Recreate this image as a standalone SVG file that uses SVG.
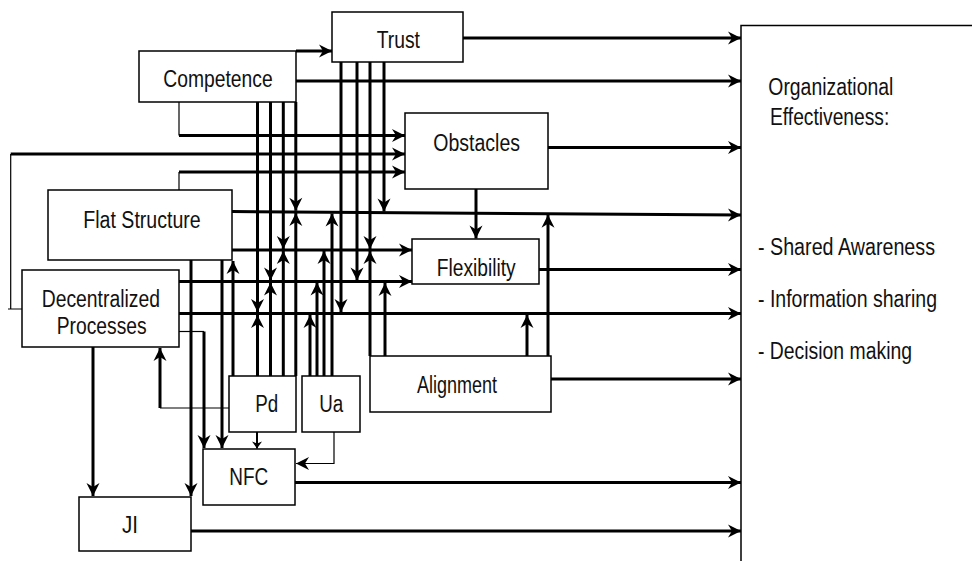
<svg xmlns="http://www.w3.org/2000/svg" width="972" height="561" viewBox="0 0 972 561">
<defs>
<style>
.box{fill:#fff;stroke:#000;stroke-width:1.5}
.tk{fill:none;stroke:#000;stroke-width:3}
.md{fill:none;stroke:#000;stroke-width:2}
.tn{fill:none;stroke:#000;stroke-width:1.2}
.a{marker-end:url(#ah)}
.as{marker-end:url(#ahs)}
text{font-family:"Liberation Sans Narrow","Liberation Sans",Arial,sans-serif;font-size:23px;fill:#111}
</style>
<marker id="ah" markerUnits="userSpaceOnUse" markerWidth="16" markerHeight="16" viewBox="-14 -8 16 16" refX="0" refY="0" orient="auto">
<path d="M0,0 L-13,-6.5 L-9,0 L-13,6.5 Z" fill="#000"/>
</marker>
<marker id="ahs" markerUnits="userSpaceOnUse" markerWidth="12" markerHeight="12" viewBox="-10 -6 12 12" refX="0" refY="0" orient="auto">
<path d="M0,0 L-7,-5 L-5,0 L-7,5 Z" fill="#000"/>
</marker>
</defs>
<rect x="0" y="0" width="972" height="561" fill="#fff"/>
<g id="connectors">
<path class="tk a" d="M463,38 H741"/>
<path class="tk a" d="M296,81 H741"/>
<path class="tk a" d="M548,147.5 H741"/>
<path class="tk a" d="M232,211.5 L741,215"/>
<path class="tk a" d="M539,269.5 H741"/>
<path class="tk a" d="M179,313.5 H741"/>
<path class="tk a" d="M551,379 H741"/>
<path class="tk a" d="M295,482.5 H741"/>
<path class="tk a" d="M191,531 H741"/>
<path class="tk a" d="M296,51 H332"/>
<path class="tn" d="M179,102 V135.5"/>
<path class="tk a" d="M179,135.5 H405"/>
<path class="tn" d="M22,309 H8 M10.7,309 V154"/>
<path class="tk a" d="M10.7,154 H405"/>
<path class="tn" d="M179,190 V172"/>
<path class="tk a" d="M179,172 H405"/>
<path class="tk a" d="M476,189 V238.5"/>
<path class="tk a" d="M232,250 H412"/>
<path class="tk a" d="M179,281.5 H412"/>
<path class="tn" d="M179,331.5 H204"/>
<path class="tk a" d="M204,331.5 V448"/>
<path class="tk a" d="M222,260 V448"/>
<path class="md as" d="M257,432 V448.5"/>
<path class="tn a" d="M334,432 V463.5 H296"/>
<path class="tk a" d="M191,260 V496"/>
<path class="tk a" d="M93,347 V496"/>
<path class="tn" d="M229,408 H160"/>
<path class="tk a" d="M160,408 V348"/>
<path class="tk a" d="M233,376 V261"/>
<path class="tk a" d="M257.5,102 V312"/>
<path class="tk a" d="M270.5,102 V280.5"/>
<path class="tk a" d="M283.3,102 V249"/>
<path class="tk a" d="M295.8,102 V210.8"/>
<path class="tk a" d="M257.5,376 V315"/>
<path class="tk a" d="M270.5,376 V282.5"/>
<path class="tk a" d="M283.3,376 V251"/>
<path class="tk a" d="M295.8,376 V213"/>
<path class="tk a" d="M384,62 V211.5"/>
<path class="tk a" d="M370,62 V249"/>
<path class="tk a" d="M357,62 V280.5"/>
<path class="tk a" d="M341,62 V312"/>
<path class="tk a" d="M332,376 V213.5"/>
<path class="tk a" d="M324,376 V251"/>
<path class="tk a" d="M317,376 V282.5"/>
<path class="tk a" d="M310,376 V315"/>
<path class="tk a" d="M370,356 V251"/>
<path class="tk a" d="M385,356 V283"/>
<path class="tk a" d="M527,356 V315"/>
<path class="tk a" d="M548,356 V214.8"/>
</g>
<g id="trust"><rect class="box" x="332" y="12" width="131" height="50"/><text x="376.7" y="48.3" textLength="43.3" lengthAdjust="spacingAndGlyphs">Trust</text></g>
<g id="competence"><rect class="box" x="139" y="51" width="157" height="51"/><text x="163.3" y="87" textLength="109.4" lengthAdjust="spacingAndGlyphs">Competence</text></g>
<g id="obstacles"><rect class="box" x="405" y="113" width="143" height="76"/><text x="433.3" y="150.7" textLength="86.7" lengthAdjust="spacingAndGlyphs">Obstacles</text></g>
<g id="flexibility"><rect class="box" x="412" y="239" width="127" height="45"/><text x="436.7" y="276" textLength="79" lengthAdjust="spacingAndGlyphs">Flexibility</text></g>
<g id="flat-structure"><rect class="box" x="48" y="190" width="184" height="70"/><text x="83.3" y="228.3" textLength="117.4" lengthAdjust="spacingAndGlyphs">Flat Structure</text></g>
<g id="decentralized"><rect class="box" x="22" y="270" width="157" height="77"/><text x="41.7" y="306.7" textLength="118.3" lengthAdjust="spacingAndGlyphs">Decentralized</text><text x="56.7" y="334.3" textLength="90" lengthAdjust="spacingAndGlyphs">Processes</text></g>
<g id="pd"><rect class="box" x="229" y="376" width="67" height="56"/><text x="255.3" y="412.3" textLength="23" lengthAdjust="spacingAndGlyphs">Pd</text></g>
<g id="ua"><rect class="box" x="302" y="376" width="58" height="56"/><text x="319.3" y="412.3" textLength="24" lengthAdjust="spacingAndGlyphs">Ua</text></g>
<g id="alignment"><rect class="box" x="370" y="356" width="181" height="56"/><text x="417" y="392.7" textLength="80" lengthAdjust="spacingAndGlyphs">Alignment</text></g>
<g id="nfc"><rect class="box" x="203" y="449" width="92" height="56"/><text x="229.3" y="485" textLength="39" lengthAdjust="spacingAndGlyphs">NFC</text></g>
<g id="ji"><rect class="box" x="79" y="497" width="112" height="54"/><text x="122" y="533" textLength="16" lengthAdjust="spacingAndGlyphs">JI</text></g>
<g id="org-effectiveness">
<path d="M741,561 V25.5 H972" fill="none" stroke="#000" stroke-width="1.5"/>
<text x="768.3" y="95" textLength="125" lengthAdjust="spacingAndGlyphs">Organizational</text>
<text x="770" y="125" textLength="119.3" lengthAdjust="spacingAndGlyphs">Effectiveness:</text>
<text x="758" y="255" textLength="177" lengthAdjust="spacingAndGlyphs">- Shared Awareness</text>
<text x="758" y="307" textLength="179" lengthAdjust="spacingAndGlyphs">- Information sharing</text>
<text x="758" y="359" textLength="154" lengthAdjust="spacingAndGlyphs">- Decision making</text>
</g>
</svg>
